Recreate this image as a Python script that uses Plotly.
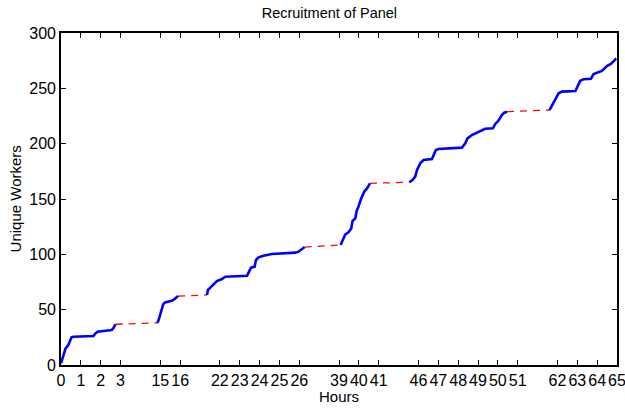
import plotly.graph_objects as go

# Compressed time-axis positions (idle gaps collapsed) and tick labels (hours)
tick_pos = [0, 1, 2, 3, 5, 6, 8, 9, 10, 11, 12, 14, 15, 16, 18, 19, 20, 21, 22, 23, 25, 26, 27, 28]
tick_hours = [0, 1, 2, 3, 15, 16, 22, 23, 24, 25, 26, 39, 40, 41, 46, 47, 48, 49, 50, 51, 62, 63, 64, 65]

# Active recruitment segments: (position, unique workers)
seg1_x = [0.0, 0.12, 0.23, 0.37, 0.53, 0.62, 1.63, 1.74, 1.84, 2.55, 2.63, 2.72, 2.75]
seg1_y = [1.5, 9, 15, 18, 25, 25.6, 26.2, 28.6, 30, 31.6, 33, 36, 36.8]

seg2_x = [4.86, 4.93, 5.04, 5.15, 5.24, 5.57, 5.70, 5.82, 5.90]
seg2_y = [38.2, 41.3, 48.2, 55, 56.6, 58, 59.3, 61.7, 62.3]

seg3_x = [7.35, 7.40, 7.57, 7.69, 7.85, 8.11, 8.27, 9.37, 9.48, 9.57, 9.75, 9.82, 9.95,
          10.2, 10.62, 11.8, 11.96, 12.13, 12.27]
seg3_y = [63.3, 67.8, 70.8, 72.9, 75.9, 77.7, 79.8, 80.7, 84.3, 87.9, 88.8, 94.9, 97.3,
          98.8, 100.3, 101.5, 102.4, 104.8, 106.6]

seg4_x = [14.08, 14.18, 14.32, 14.48, 14.62, 14.68, 14.82, 14.90, 14.98, 15.12, 15.29,
          15.41, 15.52, 15.56]
seg4_y = [108.4, 112, 118.1, 119.9, 123.5, 130.1, 132.5, 140, 143, 150.6, 157.2,
          159.6, 163.3, 164.2]

seg5_x = [17.54, 17.70, 17.84, 17.93, 18.09, 18.26, 18.68, 18.76, 18.88, 19.01, 20.19,
          20.36, 20.47, 20.69, 20.95, 21.2, 21.36, 21.75, 21.87, 22.03, 22.2, 22.32, 22.46]
seg5_y = [165.1, 167.2, 170.2, 176.2, 182.2, 185.2, 186.1, 189.8, 194.3, 195.2, 196.4,
          200.3, 204.8, 207.8, 209.9, 212.3, 213.5, 213.9, 217.8, 220.8, 225.9, 228, 228.9]

seg6_x = [24.6, 24.8, 25.06, 25.23, 25.9, 26.01, 26.15, 26.31, 26.69, 26.82, 27.07,
          27.24, 27.49, 27.69, 27.86, 27.96]
seg6_y = [230.4, 236.4, 245.5, 247, 247.6, 251.5, 256.9, 258.2, 258.7, 263, 264.5,
          265.7, 270.2, 272, 275, 277]

segments = [(seg1_x, seg1_y), (seg2_x, seg2_y), (seg3_x, seg3_y),
            (seg4_x, seg4_y), (seg5_x, seg5_y), (seg6_x, seg6_y)]

blue_x, blue_y = [], []
for sx, sy in segments:
    blue_x += sx + [None]
    blue_y += sy + [None]

red_x, red_y = [], []
for (ax, ay), (bx, by) in zip(segments[:-1], segments[1:]):
    red_x += [ax[-1], bx[0], None]
    red_y += [ay[-1], by[0], None]

fig = go.Figure()
fig.add_trace(go.Scatter(x=red_x, y=red_y, mode="lines",
                         line=dict(color="#ff0000", width=1.3, dash="7px,6px"),
                         hoverinfo="skip", showlegend=False))
fig.add_trace(go.Scatter(x=blue_x, y=blue_y, mode="lines",
                         line=dict(color="#0000ff", width=2.6),
                         showlegend=False))

font = "Liberation Sans, Arial, Helvetica, sans-serif"
fig.update_layout(
    width=625, height=408,
    margin=dict(l=61, r=8, t=33, b=43),
    paper_bgcolor="white", plot_bgcolor="white",
    font=dict(family=font, size=15, color="black"),
    title=dict(text="Recruitment of Panel", x=0.527, xanchor="center",
               y=0.968, yanchor="middle", font=dict(size=14.5)),
    xaxis=dict(range=[0, 28], tickvals=tick_pos, ticktext=[str(h) for h in tick_hours],
               ticks="inside", ticklen=5, tickwidth=1, tickcolor="black",
               showline=True, linecolor="black", linewidth=1.6, mirror="ticks",
               showgrid=False, zeroline=False, tickangle=0, automargin=False,
               ticklabeloverflow="allow", tickfont=dict(size=16)),
    yaxis=dict(range=[0, 300], tickvals=[0, 50, 100, 150, 200, 250, 300],
               ticks="inside", ticklen=5, tickwidth=1, tickcolor="black",
               showline=True, linecolor="black", linewidth=1.6, mirror="ticks",
               showgrid=False, zeroline=False, automargin=False,
               ticklabeloverflow="allow", tickfont=dict(size=16)),
    annotations=[
        dict(text="Hours", xref="paper", yref="paper", x=0.5, y=-0.095,
             xanchor="center", yanchor="middle", showarrow=False, font=dict(size=15)),
        dict(text="Unique Workers", xref="paper", yref="paper", x=-0.082, y=0.5,
             xanchor="center", yanchor="middle", textangle=-90, showarrow=False,
             font=dict(size=15)),
    ],
)

fig.write_html("out.html", config={"displayModeBar": False},
               post_script="document.body.style.margin='0';document.body.style.overflow='hidden';")
